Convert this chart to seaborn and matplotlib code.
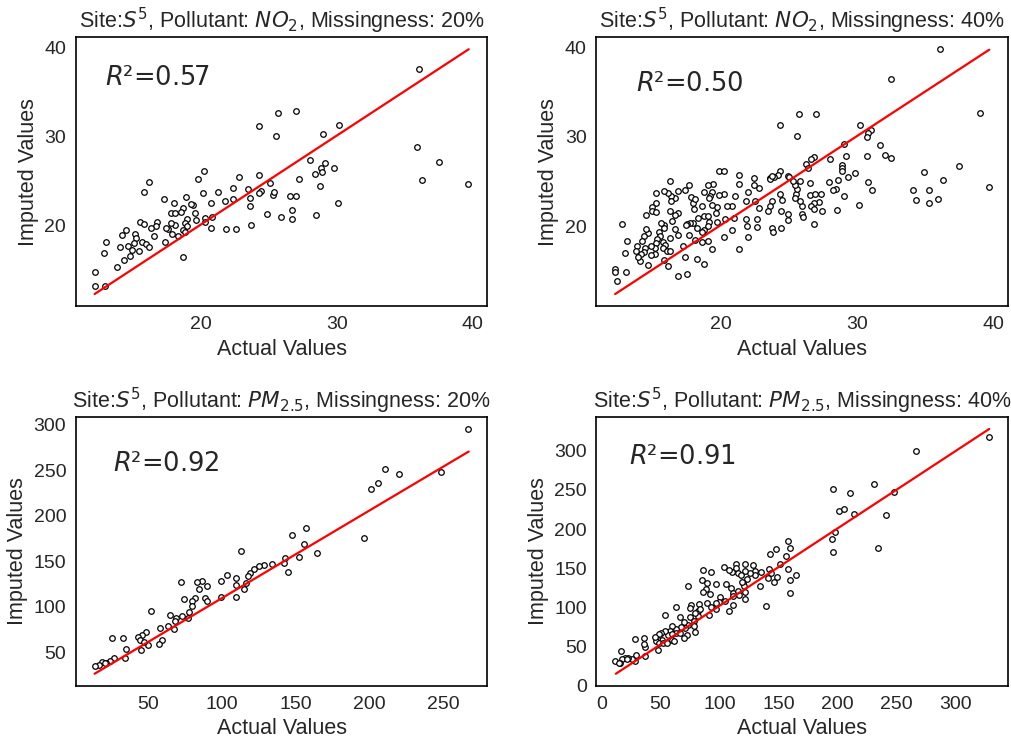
import pandas as pd
import matplotlib
matplotlib.use("Agg")
import matplotlib.pyplot as plt
from matplotlib.ticker import MultipleLocator
import seaborn as sns

# NO2, 20% missing
no2_20_actual = [36.05, 25.66, 27.0, 24.27, 25.54, 30.17, 29.02, 35.93, 37.51, 36.29,
                 39.68, 28.0, 29.12, 28.85, 29.8, 28.41, 28.88, 27.24, 28.8, 30.07,
                 28.49, 26.7, 26.73, 25.93, 24.85, 26.56, 27.0, 25.32, 25.41, 25.07,
                 24.27, 24.46, 24.32, 23.66, 23.66, 23.68, 23.49, 22.83, 22.41, 22.34,
                 21.78, 21.24, 20.76, 22.61, 21.83, 20.76, 20.85, 20.24, 19.78, 20.17,
                 20.32, 20.32, 19.63, 19.59, 19.44, 19.29, 18.93, 18.71, 18.54, 18.07,
                 17.83, 18.1, 18.96, 18.85, 19.02, 18.71, 18.83, 18.71, 18.32, 18.12,
                 17.8, 17.9, 17.63, 17.44, 17.34, 17.32, 16.8, 16.71, 16.34, 16.59,
                 16.17, 15.8, 15.54, 15.8, 15.71, 16.0, 16.2, 15.46, 15.17, 15.22,
                 15.07, 14.54, 14.2, 14.66, 14.93, 14.8, 14.07, 14.34, 13.85, 13.05,
                 12.88, 12.2, 12.22, 12.95]
no2_20_imputed = [37.57, 32.56, 32.86, 31.21, 30.06, 31.29, 30.24, 28.82, 27.1, 25.16,
                  24.64, 27.4, 26.99, 26.47, 26.47, 25.79, 25.98, 25.2, 24.45, 22.5,
                  21.2, 21.76, 20.75, 20.93, 21.27, 23.36, 23.36, 23.48, 23.81, 24.79,
                  25.68, 23.93, 23.7, 23.07, 22.24, 20.11, 24.07, 25.46, 24.19, 23.03,
                  22.73, 23.74, 22.58, 19.66, 19.59, 19.78, 20.93, 26.13, 25.23, 23.66,
                  20.82, 20.37, 20.6, 21.46, 22.36, 22.43, 23.25, 22.02, 21.5, 22.54,
                  21.38, 21.38, 20.71, 20.3, 19.96, 19.51, 19.29, 16.52, 18.8, 20.07,
                  20.34, 19.06, 19.63, 19.74, 18.13, 22.95, 20.41, 19.93, 19.7, 18.84,
                  24.9, 23.81, 20.41, 20.22, 18.13, 17.94, 17.57, 17.12, 19.06, 18.62,
                  18.02, 19.55, 18.92, 17.68, 17.27, 16.64, 17.57, 16.11, 15.4, 18.21,
                  16.9, 14.8, 13.2, 13.27]
no2_20_fit_x = [12.2, 39.7]
no2_20_fit_y = [12.35, 39.75]

# NO2, 40% missing
no2_40_actual = [36.1, 32.5, 39.0, 37.5, 39.7, 34.9, 36.3, 34.1, 35.3, 34.3,
                 35.3, 35.9, 31.7, 32.0, 32.5, 30.7, 30.8, 31.1, 30.1, 30.2,
                 31.0, 30.8, 30.7, 29.0, 29.2, 28.9, 28.9, 28.9, 29.3, 29.8,
                 28.6, 28.4, 28.2, 29.0, 28.5, 28.0, 27.9, 27.0, 25.7, 24.3,
                 25.6, 26.8, 26.6, 26.2, 26.4, 26.5, 26.5, 26.9, 27.3, 27.2,
                 26.8, 26.6, 26.8, 27.4, 26.8, 25.9, 25.9, 26.0, 25.8, 25.5,
                 25.4, 25.6, 25.4, 25.8, 25.3, 24.9, 25.0, 24.3, 24.5, 24.4,
                 24.9, 24.9, 24.4, 24.3, 24.2, 23.9, 23.6, 23.6, 23.7, 23.7,
                 23.6, 23.4, 23.7, 23.8, 22.8, 22.4, 22.4, 22.0, 22.5, 22.8,
                 21.8, 21.8, 21.9, 22.6, 22.6, 22.0, 21.3, 21.3, 21.3, 21.0,
                 20.8, 20.9, 20.8, 20.2, 20.3, 20.4, 20.2, 19.8, 20.2, 19.8,
                 19.7, 19.6, 19.7, 19.0, 19.3, 19.4, 19.0, 19.3, 19.2, 19.1,
                 19.3, 18.7, 18.6, 18.7, 19.0, 19.1, 19.0, 18.7, 18.6, 18.6,
                 18.7, 18.2, 18.1, 18.2, 18.3, 18.0, 17.9, 17.8, 18.1, 17.6,
                 17.3, 17.9, 17.7, 17.5, 17.6, 17.4, 17.5, 16.8, 17.3, 17.2,
                 16.8, 16.6, 16.8, 16.6, 16.8, 16.6, 16.3, 16.3, 16.2, 16.1,
                 16.2, 15.8, 15.2, 15.2, 14.9, 14.9, 15.2, 14.5, 16.4, 15.8,
                 15.8, 15.6, 15.4, 15.5, 15.3, 16.2, 15.7, 15.9, 15.7, 16.0,
                 16.2, 16.1, 15.8, 15.2, 15.1, 15.1, 14.8, 14.6, 14.8, 14.6,
                 14.5, 14.3, 14.2, 14.4, 14.3, 14.1, 14.0, 13.8, 13.7, 13.9,
                 13.1, 12.9, 12.7, 13.0, 12.2, 12.2, 12.3]
no2_40_imputed = [39.8, 36.5, 32.7, 26.7, 24.4, 26.1, 25.2, 24.0, 24.1, 22.9,
                  22.6, 23.0, 29.1, 28.0, 27.6, 27.8, 24.9, 24.0, 22.4, 31.3,
                  30.8, 30.4, 30.0, 29.2, 27.9, 26.8, 26.5, 26.2, 25.5, 25.9,
                  25.2, 24.2, 24.0, 23.4, 21.8, 27.5, 24.9, 32.6, 32.5, 31.3,
                  30.1, 27.7, 27.5, 26.9, 26.5, 24.8, 23.5, 23.6, 23.6, 22.7,
                  22.6, 22.2, 21.9, 21.7, 20.2, 22.3, 21.4, 21.0, 22.8, 23.6,
                  23.1, 24.2, 24.6, 25.1, 25.1, 25.6, 25.5, 23.6, 22.9, 21.7,
                  21.4, 20.7, 19.8, 26.2, 25.7, 25.5, 25.4, 25.3, 25.6, 22.8,
                  22.3, 21.7, 19.8, 19.4, 24.3, 24.6, 25.4, 23.8, 22.8, 22.0,
                  22.8, 20.8, 20.0, 20.8, 19.9, 18.8, 17.4, 25.7, 24.7, 23.4,
                  22.2, 20.9, 19.6, 18.8, 20.8, 22.2, 23.6, 26.2, 26.2, 23.5,
                  22.1, 21.5, 20.5, 18.3, 17.4, 24.7, 24.6, 23.8, 23.4, 23.1,
                  22.4, 23.8, 22.3, 21.1, 21.1, 20.5, 20.0, 19.6, 19.3, 18.2,
                  15.8, 16.3, 18.4, 19.8, 20.9, 21.9, 22.6, 23.3, 23.0, 24.6,
                  24.0, 20.3, 20.3, 20.2, 19.0, 20.1, 14.6, 14.4, 16.6, 17.8,
                  19.0, 19.7, 21.5, 21.2, 23.9, 23.2, 23.4, 22.8, 21.7, 23.7,
                  25.0, 23.9, 23.7, 22.6, 22.1, 21.7, 21.6, 21.3, 20.6, 20.1,
                  19.8, 20.3, 19.3, 18.9, 18.6, 18.7, 18.2, 17.9, 17.6, 17.2,
                  17.2, 15.5, 16.2, 18.1, 17.5, 16.9, 16.8, 15.7, 17.8, 19.2,
                  19.7, 18.9, 18.3, 17.6, 17.1, 16.9, 16.1, 17.8, 17.2, 16.6,
                  18.3, 17.0, 20.2, 14.9, 15.2, 14.9, 13.9]
no2_40_fit_x = [12.2, 39.7]
no2_40_fit_y = [12.4, 39.75]

# PM2.5, 20% missing
pm_20_actual = [267.2, 210.4, 220.1, 205.9, 201.0, 248.4, 196.3, 147.8, 157.2, 156.1,
                164.4, 152.7, 142.9, 142.4, 145.1, 133.9, 129.0, 125.6, 122.0, 119.1,
                117.5, 116.6, 115.0, 112.8, 109.4, 109.9, 109.9, 103.8, 99.3, 99.3,
                89.9, 86.8, 83.2, 84.8, 88.6, 90.3, 72.2, 74.2, 82.0, 80.0,
                79.8, 77.6, 77.1, 73.1, 69.2, 68.3, 67.7, 65.0, 63.6, 58.2,
                59.8, 57.6, 52.0, 50.2, 48.8, 46.1, 43.4, 44.6, 47.0, 45.2,
                35.4, 34.7, 33.3, 25.9, 26.8, 24.1, 21.4, 18.7, 16.7, 14.0, 20.8]
pm_20_imputed = [295.1, 251.2, 245.7, 235.8, 229.2, 247.9, 175.0, 178.7, 186.4, 168.8,
                 159.3, 154.2, 153.4, 147.6, 137.7, 146.9, 146.1, 144.7, 141.0, 137.3,
                 133.7, 125.6, 119.4, 161.1, 131.8, 124.2, 110.6, 134.4, 127.8, 111.0,
                 122.7, 128.2, 126.7, 119.0, 110.2, 105.9, 127.1, 108.1, 110.2, 106.6,
                 100.4, 93.8, 87.6, 89.4, 87.2, 83.9, 76.2, 90.8, 78.8, 76.9,
                 63.4, 59.4, 95.6, 58.3, 72.2, 69.6, 67.1, 63.4, 61.2, 52.4,
                 53.9, 43.6, 66.0, 65.6, 44.4, 41.1, 38.9, 40.0, 36.3, 35.2, 38.9]
pm_20_fit_x = [13.8, 267.5]
pm_20_fit_y = [26.6, 270.3]

# PM2.5, 40% missing
pm_40_actual = [328.1, 266.3, 230.9, 247.8, 196.6, 210.4, 201.1, 205.9, 213.8, 241.0,
                234.0, 195.2, 197.5, 196.6, 157.9, 159.6, 148.3, 143.0, 156.5, 151.4,
                158.4, 164.9, 159.6, 159.8, 148.6, 146.1, 141.9, 143.5, 139.0, 134.6,
                134.8, 130.1, 130.3, 126.1, 123.0, 121.3, 121.9, 120.2, 120.8, 121.6,
                121.9, 114.3, 114.0, 116.0, 118.3, 110.4, 103.9, 105.3, 109.6, 111.0,
                115.7, 116.9, 111.8, 111.0, 108.1, 104.8, 100.6, 99.2, 97.2, 93.0,
                86.2, 84.8, 88.2, 86.2, 91.6, 89.6, 92.7, 96.6, 91.3, 82.9,
                81.5, 81.5, 73.6, 76.1, 75.0, 78.7, 78.4, 78.9, 73.3, 70.2,
                70.5, 72.5, 66.6, 63.5, 67.1, 62.9, 63.2, 66.6, 70.2, 59.6,
                58.4, 60.1, 61.8, 56.5, 53.9, 53.4, 50.6, 51.4, 48.3, 46.6,
                46.1, 48.6, 52.2, 55.6, 47.5, 45.2, 35.7, 28.4, 36.8, 37.1,
                36.0, 29.2, 28.4, 25.6, 22.2, 19.7, 16.6, 17.4, 16.0, 11.5,
                14.6, 21.3, 59.8, 75.3, 79.5, 83.4, 89.3, 97.2, 107.9, 119.1,
                128.7, 141.3]
pm_40_imputed = [317.3, 299.9, 258.1, 247.8, 251.3, 245.7, 223.1, 226.1, 219.8, 218.1,
                 176.3, 187.8, 195.9, 170.7, 184.3, 175.4, 175.0, 168.6, 165.6, 155.8,
                 149.4, 141.3, 134.5, 118.7, 139.2, 132.8, 149.4, 144.3, 101.2, 127.2,
                 145.2, 146.8, 141.7, 143.5, 135.7, 155.0, 146.8, 131.5, 127.2, 119.6,
                 111.0, 155.0, 149.9, 144.3, 140.9, 144.7, 151.1, 129.8, 124.3, 118.7,
                 121.3, 115.3, 114.4, 102.9, 94.9, 108.1, 113.6, 107.2, 105.1, 145.6,
                 148.1, 134.9, 122.9, 119.2, 116.5, 105.1, 100.8, 97.4, 90.6, 104.2,
                 95.7, 89.3, 127.2, 102.5, 88.0, 82.9, 76.1, 68.0, 76.9, 81.2,
                 74.0, 64.6, 87.2, 100.0, 75.3, 71.8, 67.6, 66.7, 60.7, 76.1,
                 69.3, 58.2, 56.9, 64.6, 90.1, 69.7, 66.7, 58.2, 65.4, 59.9,
                 56.5, 53.9, 53.9, 53.9, 45.4, 62.5, 60.3, 59.4, 48.9, 38.2,
                 52.6, 39.0, 31.4, 34.3, 34.7, 35.1, 44.6, 33.9, 29.2, 31.8,
                 28.3, 34.3, 65.4, 98.6, 93.2, 97.4, 130.7, 129.8, 147.7, 132.8,
                 154.5, 137.1]
pm_40_fit_x = [12.1, 328.7]
pm_40_fit_y = [15.0, 328.0]

r2_scores = [0.57, 0.50, 0.92, 0.91]
titles = ["Site:$S^5$, Pollutant: $NO_2$, Missingness: 20%",
          "Site:$S^5$, Pollutant: $NO_2$, Missingness: 40%",
          "Site:$S^5$, Pollutant: $PM_{2.5}$, Missingness: 20%",
          "Site:$S^5$, Pollutant: $PM_{2.5}$, Missingness: 40%"]

sns.set_style("white")
plt.rcParams["font.family"] = ["Liberation Sans", "DejaVu Sans"]
plt.rcParams["mathtext.fontset"] = "dejavusans"

fig, axes = plt.subplots(2, 2, figsize=(10.12, 7.4), dpi=100)
fig.subplots_adjust(left=0.075, right=0.996, top=0.95, bottom=0.073,
                    wspace=0.265, hspace=0.41)

panels = [
    (axes[0, 0], no2_20_actual, no2_20_imputed, no2_20_fit_x, no2_20_fit_y, 10, (0.07, 0.82)),
    (axes[0, 1], no2_40_actual, no2_40_imputed, no2_40_fit_x, no2_40_fit_y, 10, (0.095, 0.80)),
    (axes[1, 0], pm_20_actual, pm_20_imputed, pm_20_fit_x, pm_20_fit_y, 50, (0.09, 0.80)),
    (axes[1, 1], pm_40_actual, pm_40_imputed, pm_40_fit_x, pm_40_fit_y, 50, (0.08, 0.825)),
]

for i, (ax, actual, imputed, fit_x, fit_y, step, txt_pos) in enumerate(panels):
    df = pd.DataFrame({"Actual Values": actual, "Imputed Values": imputed})
    sns.scatterplot(data=df, x="Actual Values", y="Imputed Values", ax=ax,
                    s=16, color="white", edgecolor="black", linewidth=0.9)
    sns.lineplot(x=fit_x, y=fit_y, ax=ax, color="red", linewidth=1.6)
    ax.text(txt_pos[0], txt_pos[1], "$R$²=%.2f" % r2_scores[i], transform=ax.transAxes,
            fontsize=18.5, family="DejaVu Sans")
    ax.set_title(titles[i], fontsize=15.5)
    ax.set_xlabel("Actual Values", fontsize=15.5)
    ax.set_ylabel("Imputed Values", fontsize=15.5)
    ax.xaxis.set_major_locator(MultipleLocator(step))
    ax.yaxis.set_major_locator(MultipleLocator(step))
    ax.tick_params(labelsize=14)
    for sp in ax.spines.values():
        sp.set_color("black")
        sp.set_linewidth(1.2)

fig.savefig("out.png", dpi=100)
